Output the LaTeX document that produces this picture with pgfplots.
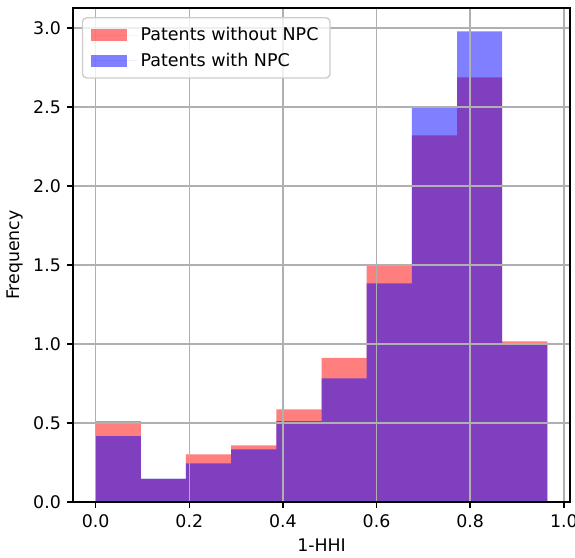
\documentclass[border=0pt]{standalone}
\usepackage{fontspec}
\setmainfont{DejaVu Sans}
\usepackage{pgfplots}
\pgfplotsset{compat=1.18}
\definecolor{gridgray}{HTML}{B0B0B0}
\begin{document}
\begin{tikzpicture}
\begin{axis}[
  scale only axis,
  width=357.8pt, height=355.7pt,
  xmin=-0.04825, xmax=1.01325,
  ymin=0, ymax=3.127,
  xtick={0,0.2,0.4,0.6,0.8,1.0},
  ytick={0,0.5,1.0,1.5,2.0,2.5,3.0},
  /pgf/number format/assume math mode=true,
  /pgf/number format/fixed,
  /pgf/number format/fixed zerofill,
  /pgf/number format/precision=1,
  tick label style={font=\fontsize{12.5}{14.5}\selectfont, inner sep=0pt},
  xticklabel style={yshift=-4.3pt},
  yticklabel style={xshift=-4.3pt},
  tick align=outside,
  major tick length=4.3pt,
  tick style={black, line width=1pt},
  xtick pos=bottom, ytick pos=left,
  axis line style={line width=1pt},
  axis on top,
  grid=major,
  major grid style={gridgray, line width=1pt},
  xlabel={1-HHI},
  ylabel={Frequency},
  every axis x label/.append style={at={(axis description cs:0.5,-0.087)}, anchor=center, font=\fontsize{12.5}{14.5}\selectfont},
  every axis y label/.append style={at={(axis description cs:-0.117,0.5)}, anchor=center, font=\fontsize{12.5}{14.5}\selectfont},
  legend style={at={(0,1)}, anchor=north west, xshift=6.3pt, yshift=-6.5pt,
    draw=gray!40, line width=1pt, rounded corners=3pt, fill=white, fill opacity=0.8, text opacity=1,
    font=\fontsize{12.6}{14.5}\selectfont, row sep=3.2pt, inner xsep=6.3pt, inner ysep=5pt},
  legend cell align=left,
  legend image code/.code={\fill[#1, sharp corners] (0pt,-4.3pt) rectangle (25.7pt,4.3pt); \path (0pt,0pt) -- (33.5pt,0pt);},
]
\addplot[fill=red, fill opacity=0.5, draw=none, const plot mark left] coordinates {
  (0,0.513) (0.0965,0.146) (0.193,0.302) (0.2895,0.359) (0.386,0.587)
  (0.4825,0.913) (0.579,1.494) (0.6755,2.321) (0.772,2.688) (0.8685,1.017) (0.965,1.017)
} \closedcycle;
\addlegendentry{Patents without NPC}
\addplot[fill=blue, fill opacity=0.5, draw=none, const plot mark left] coordinates {
  (0,0.418) (0.0965,0.148) (0.193,0.245) (0.2895,0.333) (0.386,0.513)
  (0.4825,0.783) (0.579,1.384) (0.6755,2.506) (0.772,2.979) (0.8685,1.000) (0.965,1.000)
} \closedcycle;
\addlegendentry{Patents with NPC}
\end{axis}
\pgfresetboundingbox
\useasboundingbox ([xshift=-52.6pt,yshift=-39.6pt]current axis.south west) rectangle ([xshift=3.6pt,yshift=5.8pt]current axis.north east);
\end{tikzpicture}
\end{document}
